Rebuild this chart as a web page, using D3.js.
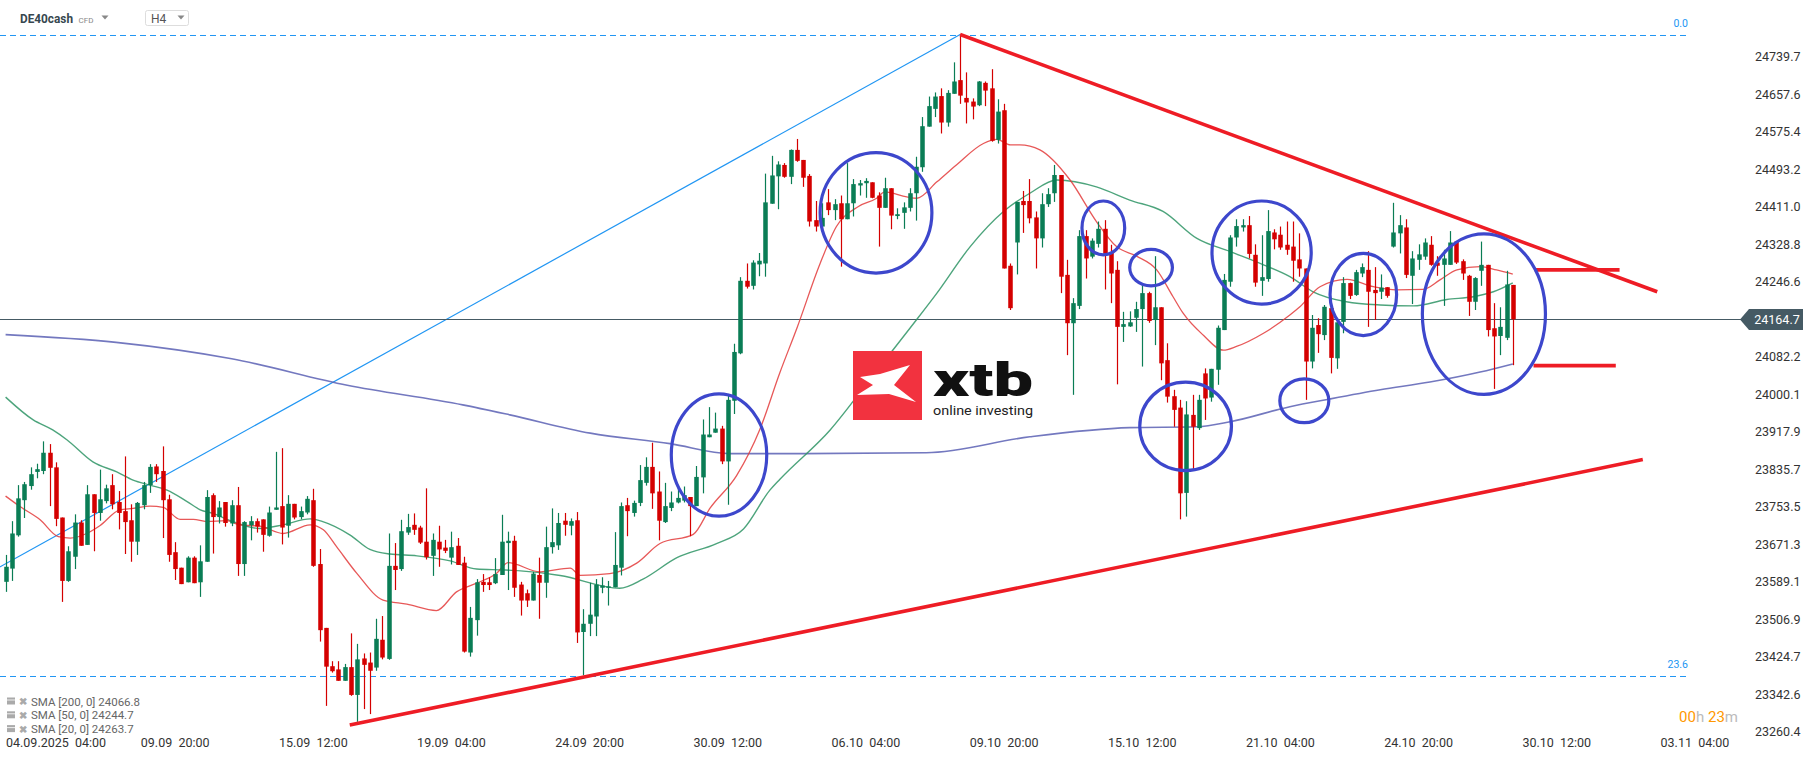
<!DOCTYPE html>
<html>
<head>
<meta charset="utf-8">
<script src="https://cdn.jsdelivr.net/npm/d3@7"></script>
<style>
  html, body { margin: 0; padding: 0; background: #fff; }
  svg { display: block; font-family: Roboto, "Noto Sans", sans-serif; }
</style>
</head>
<body>
<div id="chart"></div>
<script>
// H4 candles (index 0 = 03.09 08:00)
var opens = [
  23589,23618,23691,23768,23799,23830,23832,23872,23840,23730,
  23591,23644,23719,23670,23781,23740,23766,23801,23764,23744,
  23724,23677,23757,23801,23842,23832,23770,23654,23620,23588,
  23642,23588,23633,23779,23731,23764,23717,23757,23628,23713,
  23722,23726,23690,23747,23755,23712,23760,23731,23741,23768,
  23628,23488,23404,23397,23372,23402,23341,23421,23412,23401,
  23462,23420,23624,23617,23697,23714,23708,23677,23646,23677,
  23664,23642,23668,23631,23434,23505,23589,23588,23586,23604,
  23674,23679,23583,23564,23548,23604,23587,23665,23669,23723,
  23712,23724,23479,23497,23513,23576,23576,23577,23620,23757,
  23740,23762,23806,23841,23787,23720,23751,23763,23767,23775,
  23755,23818,23906,23916,23925,23853,23986,24090,24249,24238,
  24285,24287,24418,24478,24503,24477,24536,24514,24479,24382,
  24368,24421,24404,24419,24384,24419,24458,24463,24465,24436,
  24409,24452,24391,24398,24409,24441,24498,24587,24626,24654,
  24596,24659,24689,24650,24642,24634,24683,24671,24558,24623,
  24282,24333,24424,24424,24388,24342,24417,24441,24481,24262,
  24156,24194,24347,24302,24330,24363,24312,24273,24148,24149,
  24168,24187,24222,24163,24191,24075,23996,23971,23784,23955,
  23926,24046,23993,24054,24141,24247,24344,24366,24371,24306,
  24249,24253,24355,24350,24328,24324,24296,24276,24072,24152,
  24130,24189,24079,24159,24244,24218,24265,24273,24229,24225,
  24235,24324,24353,24366,24260,24295,24302,24328,24289,24284,
  24284,24335,24292,24260,24203,24271,24284,24145,24128,24124,
  24240
];
var highs = [
  23648,23722,23801,23808,23840,23848,23897,23891,23851,23730,
  23667,23737,23724,23801,23781,23835,23802,23825,23788,23864,
  23759,23764,23808,23847,23847,23886,23780,23676,23620,23645,
  23645,23669,23790,23783,23766,23764,23768,23797,23722,23733,
  23728,23726,23754,23874,23882,23779,23760,23754,23777,23793,
  23661,23488,23415,23415,23409,23476,23453,23432,23434,23508,
  23514,23695,23674,23725,23738,23739,23712,23794,23695,23712,
  23681,23699,23685,23644,23534,23595,23606,23599,23641,23736,
  23699,23690,23589,23572,23611,23642,23710,23750,23740,23740,
  23728,23742,23529,23587,23595,23599,23591,23698,23763,23773,
  23767,23845,23862,23894,23831,23806,23787,23798,23798,23775,
  23843,23945,23972,23960,23931,24001,24111,24257,24287,24294,
  24310,24484,24523,24511,24507,24537,24560,24514,24483,24424,
  24419,24450,24428,24436,24507,24472,24470,24474,24465,24443,
  24475,24452,24408,24421,24452,24521,24608,24653,24662,24671,
  24667,24728,24789,24706,24649,24687,24686,24713,24647,24637,
  24287,24422,24446,24472,24401,24441,24452,24503,24481,24295,
  24211,24360,24360,24342,24379,24382,24328,24292,24181,24182,
  24203,24244,24225,24303,24191,24112,24010,23988,23985,23999,
  23999,24057,24056,24151,24264,24349,24384,24384,24391,24329,
  24349,24404,24362,24368,24379,24379,24353,24276,24174,24167,
  24196,24192,24163,24257,24245,24273,24287,24314,24279,24263,
  24235,24420,24393,24384,24314,24329,24342,24347,24303,24317,
  24358,24335,24296,24262,24257,24335,24284,24200,24191,24271,
  24240
];
var lows = [
  23567,23591,23688,23729,23791,23816,23825,23755,23711,23545,
  23589,23617,23668,23670,23656,23723,23761,23748,23704,23650,
  23633,23648,23748,23784,23808,23685,23633,23593,23584,23588,
  23586,23556,23633,23651,23717,23710,23711,23602,23602,23680,
  23697,23655,23688,23747,23671,23686,23726,23726,23737,23622,
  23458,23317,23390,23372,23372,23339,23282,23310,23299,23394,
  23419,23418,23571,23613,23692,23692,23672,23638,23602,23622,
  23652,23627,23626,23434,23425,23471,23567,23571,23584,23604,
  23571,23556,23515,23534,23548,23508,23554,23651,23659,23690,
  23691,23455,23384,23470,23470,23564,23537,23577,23603,23689,
  23732,23755,23800,23749,23680,23718,23744,23761,23763,23689,
  23755,23783,23906,23916,23847,23758,23957,24088,24232,24230,
  24259,24258,24418,24406,24475,24461,24510,24455,24368,24357,
  24368,24393,24382,24280,24384,24390,24436,24431,24430,24324,
  24409,24362,24384,24363,24401,24381,24488,24587,24608,24572,
  24587,24659,24637,24594,24603,24632,24632,24554,24550,24276,
  24185,24263,24354,24375,24276,24322,24411,24422,24222,24086,
  23999,24187,24254,24298,24322,24230,24200,24022,24115,24148,
  24137,24061,24157,24108,24031,23982,23929,23726,23732,23836,
  23922,23944,23984,24021,24141,24236,24324,24357,24298,24236,
  24216,24247,24318,24317,24306,24247,24258,23988,24057,24091,
  24119,24046,24056,24134,24209,24216,24257,24148,24163,24209,
  24212,24322,24309,24255,24198,24273,24295,24282,24260,24194,
  24284,24286,24251,24172,24185,24238,24127,24012,24086,24119,
  24064
];
var closes = [
  23622,23695,23772,23803,23825,23836,23872,23839,23727,23591,
  23656,23719,23668,23781,23740,23770,23794,23759,23740,23720,
  23677,23762,23801,23841,23825,23768,23648,23617,23584,23642,
  23586,23634,23775,23731,23752,23718,23757,23628,23720,23722,
  23710,23692,23741,23752,23708,23760,23730,23744,23771,23624,
  23483,23403,23393,23372,23402,23341,23419,23407,23394,23464,
  23423,23624,23615,23700,23709,23703,23675,23643,23681,23660,
  23657,23665,23626,23436,23510,23588,23582,23582,23606,23677,
  23679,23576,23548,23548,23607,23587,23665,23676,23718,23714,
  23722,23478,23497,23517,23583,23581,23579,23626,23755,23744,
  23762,23812,23841,23783,23723,23755,23763,23773,23779,23755,
  23819,23912,23912,23925,23853,23988,24093,24249,24236,24289,
  24293,24421,24480,24504,24477,24536,24512,24475,24379,24368,
  24387,24404,24417,24384,24419,24461,24463,24468,24431,24409,
  24452,24392,24395,24410,24441,24499,24588,24632,24653,24596,
  24661,24686,24655,24640,24631,24686,24666,24556,24620,24276,
  24189,24422,24415,24386,24342,24417,24439,24481,24258,24156,
  24200,24347,24298,24337,24363,24308,24265,24148,24154,24158,
  24187,24222,24161,24191,24068,23995,23966,23783,23956,23929,
  23988,23991,24056,24146,24251,24344,24369,24371,24308,24245,
  24257,24358,24340,24322,24317,24293,24276,24072,24146,24132,
  24192,24080,24158,24244,24216,24268,24279,24225,24222,24234,
  24216,24355,24371,24262,24298,24307,24333,24284,24282,24298,
  24333,24289,24265,24203,24255,24284,24141,24127,24148,24241,
  24164.7
];

// moving averages: [candle index, value]
var sma20 = [
  [0,23777],[2.3,23754],[5.5,23725],[8.4,23688],[10.3,23685],[12.9,23695],[15,23712],
  [18.2,23747],[20.3,23750],[23,23755],[25.1,23752],[27.8,23726],[29.9,23726],[32,23721],
  [35.2,23723],[37.3,23714],[40.5,23711],[44.2,23695],[48.5,23714],[50.6,23703],[52.7,23666],
  [55.9,23608],[60.1,23549],[63.9,23540],[68.6,23526],[71.8,23567],[75,23586],[78.2,23608],
  [80,23631],[85.1,23611],[89.9,23619],[91.5,23603],[96.2,23607],[100.5,23630],[104.2,23673],
  [109.5,23693],[112.2,23751],[116.4,23822],[120.1,23923],[123.3,24048],[126,24145],
  [129.7,24287],[132.3,24368],[135.8,24412],[138.7,24430],[140,24444],[143.5,24433],
  [145.1,24430],[148.3,24466],[151.4,24503],[155.7,24550],[157.8,24559],[160,24547],
  [161.5,24547],[164.7,24536],[169.5,24470],[173.7,24379],[176.9,24324],[180.1,24303],
  [183.3,24273],[185.9,24214],[187.5,24178],[190.7,24130],[193.9,24097],[196,24105],
  [200.3,24134],[204.5,24174],[206.1,24192],[209.3,24236],[213.6,24252],[217.8,24236],
  [221.5,24229],[225.7,24230],[228.4,24251],[231.1,24273],[234.8,24280],[237.4,24273],
  [240,24263.7]
];
var sma50 = [
  [0,23994],[4.4,23944],[7.5,23922],[9.8,23900],[13.9,23852],[17.7,23830],[20.3,23812],
  [23,23801],[25.7,23790],[28.9,23765],[31,23747],[33,23739],[36.2,23721],[40.5,23706],
  [44.2,23714],[48.5,23727],[50.5,23721],[54.8,23692],[58,23660],[61.2,23650],[65.5,23646],
  [70.8,23635],[75,23617],[79.3,23615],[82,23613],[88.3,23603],[97.8,23575],[101.5,23595],
  [106.9,23642],[113.2,23673],[117.5,23705],[121.7,23790],[123.3,23814],[131.3,23922],
  [137.6,24032],[144,24145],[148.3,24222],[153.6,24324],[158.9,24401],[163.1,24441],
  [167.4,24470],[173.7,24455],[179,24426],[184.3,24401],[189.7,24342],[195,24313],
  [200.3,24284],[204.5,24258],[208.2,24225],[213.5,24203],[218.9,24196],[224.2,24194],
  [229.5,24208],[233.7,24214],[236.9,24225],[240,24244.7]
];
var sma200 = [
  [0,24131],[17.6,24114],[36,24078],[54.4,24020],[72.8,23977],[80.3,23955],[93.1,23915],
  [105.8,23892],[115.4,23870],[123.3,23870],[146.6,23872],[163.1,23907],[179,23927],
  [189.7,23929],[195,23940],[204.5,23973],[210.9,23990],[218.9,24010],[226.8,24027],
  [234.8,24049],[240,24066.8]
];

var yTicks = [24739.7, 24657.6, 24575.4, 24493.2, 24411.0, 24328.8, 24246.6, 24082.2,
  24000.1, 23917.9, 23835.7, 23753.5, 23671.3, 23589.1, 23506.9, 23424.7, 23342.6, 23260.4];
var xTickIndex = [5, 27, 49, 71, 93, 115, 137, 159, 181, 203, 225, 247, 269];
var xTickLabels = ["04.09.2025  04:00", "09.09  20:00", "15.09  12:00", "19.09  04:00",
  "24.09  20:00", "30.09  12:00", "06.10  04:00", "09.10  20:00", "15.10  12:00",
  "21.10  04:00", "24.10  20:00", "30.10  12:00", "03.11  04:00"];

// drawings on the chart: [index, price]
var fibLevels = [["0.0", 24788.6], ["23.6", 23382.6]];
var fibLine = [[-1, 23621], [152, 24789]];
var trendUpper = [[152, 24789], [263, 24225]];
var trendLower = [[54.8, 23275], [260.7, 23857]];
var targetMarks = [[[243.5, 24273], [257, 24273]], [[243.3, 24063], [256.4, 24063]]];
// ellipses: [centre index, centre price, index radius, price radius]
var circles = [
  [113.6, 23867, 7.6, 134], [138.6, 24398, 8.9, 132], [174.8, 24365, 3.4, 59],
  [182.4, 24278, 3.4, 40], [200, 24311, 7.9, 113], [187.9, 23930, 7.3, 97],
  [206.8, 23986, 3.9, 48], [216.2, 24219, 5.3, 90], [235.4, 24176, 9.8, 176]
];
var legendRows = ["SMA [200, 0] 24066.8", "SMA [50, 0] 24244.7", "SMA [20, 0] 24263.7"];

var W = 1815, H = 761;
var UP = "#0a7d55", DOWN = "#d40000";

var svg = d3.select("#chart").append("svg").attr("width", W).attr("height", H);

var x = d3.scaleLinear().domain([0, 240]).range([5.6, 1512.8]);
var y = d3.scaleLinear().domain([23260.4, 24739.7]).range([731.7, 57]);
var step = x(1) - x(0);
var bodyW = step * 0.72;

var candles = closes.map(function(c, i) {
  return { i: i, o: opens[i], h: highs[i], l: lows[i], c: c };
});

// fib levels
var fib = svg.append("g");
fib.selectAll("line").data(fibLevels).enter().append("line")
  .attr("x1", 0).attr("x2", 1690)
  .attr("y1", d => Math.round(y(d[1])) + 0.5).attr("y2", d => Math.round(y(d[1])) + 0.5)
  .attr("stroke", "#2196f3").attr("stroke-width", 1.2).attr("stroke-dasharray", "6,4");
fib.selectAll("text").data(fibLevels).enter().append("text")
  .attr("x", 1688).attr("y", d => y(d[1]) - 8)
  .attr("text-anchor", "end").attr("font-size", 10.5).attr("fill", "#2196f3")
  .text(d => d[0]);

var lineGen = d3.line().x(d => x(d[0])).y(d => y(d[1]));
svg.append("path").attr("d", lineGen(fibLine))
  .attr("fill", "none").attr("stroke", "#2196f3").attr("stroke-width", 1.2);

// last price line
var lastY = Math.round(y(closes[closes.length - 1])) + 0.5;
svg.append("line").attr("x1", 0).attr("x2", 1742).attr("y1", lastY).attr("y2", lastY)
  .attr("stroke", "#455a64").attr("stroke-width", 1);

// moving averages
var smoothLine = d3.line().x(d => x(d[0])).y(d => y(d[1])).curve(d3.curveMonotoneX);
svg.append("path").attr("d", smoothLine(sma200)).attr("fill", "none")
  .attr("stroke", "#5b60b4").attr("stroke-opacity", 0.85).attr("stroke-width", 1.6);
svg.append("path").attr("d", smoothLine(sma50)).attr("fill", "none")
  .attr("stroke", "#2e9465").attr("stroke-opacity", 0.85).attr("stroke-width", 1.4);
svg.append("path").attr("d", smoothLine(sma20)).attr("fill", "none")
  .attr("stroke", "#e33b3b").attr("stroke-opacity", 0.85).attr("stroke-width", 1.3);

// logo
var logo = svg.append("g").attr("transform", "translate(853,351)");
logo.append("rect").attr("width", 69).attr("height", 69).attr("fill", "#f2323f");
logo.append("path")
  .attr("d", "M7,26 L27,23 L57,14 L41,34 L63,51 L36,43 L4,44 L20,34 Z")
  .attr("fill", "#fff");
logo.append("text").attr("x", 80).attr("y", 45).attr("font-size", 46)
  .attr("font-weight", 900).attr("fill", "#111")
  .attr("textLength", 100).attr("lengthAdjust", "spacingAndGlyphs").text("xtb");
logo.append("text").attr("x", 80).attr("y", 64).attr("font-size", 13)
  .attr("fill", "#222").attr("textLength", 100).attr("lengthAdjust", "spacingAndGlyphs")
  .text("online investing");

// candles
var cg = svg.append("g");
cg.selectAll("line").data(candles).enter().append("line")
  .attr("x1", d => Math.round(x(d.i)) + 0.5).attr("x2", d => Math.round(x(d.i)) + 0.5)
  .attr("y1", d => y(d.h)).attr("y2", d => y(d.l))
  .attr("stroke", d => d.c >= d.o ? UP : DOWN).attr("stroke-width", 1.2);
cg.selectAll("rect").data(candles).enter().append("rect")
  .attr("x", d => Math.round(x(d.i)) + 0.5 - bodyW / 2)
  .attr("width", bodyW)
  .attr("y", d => y(Math.max(d.o, d.c)))
  .attr("height", d => Math.max(1, Math.abs(y(d.o) - y(d.c))))
  .attr("fill", d => d.c >= d.o ? UP : DOWN);

// trend lines
var RED = "#ee1c25";
[trendUpper, trendLower].concat(targetMarks).forEach(function(seg) {
  svg.append("path").attr("d", lineGen(seg)).attr("fill", "none")
    .attr("stroke", RED).attr("stroke-width", 3.6);
});

// ellipses
svg.append("g").selectAll("ellipse").data(circles).enter().append("ellipse")
  .attr("cx", d => x(d[0])).attr("cy", d => y(d[1]))
  .attr("rx", d => x(d[0] + d[2]) - x(d[0]))
  .attr("ry", d => y(d[1] - d[3]) - y(d[1]))
  .attr("fill", "none").attr("stroke", "#3d47cc").attr("stroke-width", 3.2);

// right axis
svg.append("g").selectAll("text").data(yTicks).enter().append("text")
  .attr("x", 1755).attr("y", d => y(d)).attr("dy", "0.35em")
  .attr("font-size", 12.5).attr("fill", "#333").text(d => d.toFixed(1));

var pb = svg.append("g");
pb.append("path")
  .attr("d", "M1740," + lastY + " L1749," + (lastY - 10.5) + " L1803," + (lastY - 10.5) +
    " L1803," + (lastY + 10.5) + " L1749," + (lastY + 10.5) + " Z")
  .attr("fill", "#455a64");
pb.append("text").attr("x", 1777).attr("y", lastY).attr("dy", "0.36em")
  .attr("text-anchor", "middle").attr("font-size", 12.5).attr("fill", "#fff")
  .text(closes[closes.length - 1].toFixed(1));

// bottom axis
svg.append("g").selectAll("text").data(xTickIndex).enter().append("text")
  .attr("x", (d, k) => k === 0 ? 6 : x(d))
  .attr("y", 747)
  .attr("text-anchor", (d, k) => k === 0 ? "start" : "middle")
  .attr("font-size", 12.5).attr("fill", "#333")
  .style("white-space", "pre")
  .text((d, k) => xTickLabels[k]);

// countdown
var cd = svg.append("text").attr("x", 1738).attr("y", 722).attr("text-anchor", "end")
  .attr("font-size", 15);
cd.append("tspan").attr("fill", "#ff9800").text("00");
cd.append("tspan").attr("fill", "#bbb").text("h ");
cd.append("tspan").attr("fill", "#ff9800").text("23");
cd.append("tspan").attr("fill", "#bbb").text("m");

// legend
var lg = svg.append("g").selectAll("g").data(legendRows).enter().append("g")
  .attr("transform", (d, k) => "translate(0," + (701.5 + k * 13.8) + ")");
lg.append("rect").attr("x", 7).attr("y", -4).attr("width", 8).attr("height", 7).attr("fill", "#aaa");
lg.append("rect").attr("x", 7).attr("y", -2).attr("width", 8).attr("height", 1).attr("fill", "#eee");
lg.append("text").attr("x", 19).attr("y", 0).attr("dy", "0.35em")
  .attr("font-size", 10).attr("font-weight", 700).attr("fill", "#aaa").text("\u2716");
lg.append("text").attr("x", 31).attr("y", 0).attr("dy", "0.35em")
  .attr("font-size", 11.5).attr("fill", "#666").text(d => d);

// header
var hd = svg.append("g");
hd.append("text").attr("x", 20).attr("y", 23).attr("font-size", 12.5).attr("font-weight", 700)
  .attr("fill", "#37474f").attr("textLength", 53).attr("lengthAdjust", "spacingAndGlyphs")
  .text("DE40cash");
hd.append("text").attr("x", 78.5).attr("y", 22.5).attr("font-size", 8).attr("fill", "#888").text("CFD");
hd.append("path").attr("d", "M101.5,15.5 L108.5,15.5 L105,19.5 Z").attr("fill", "#888");
hd.append("rect").attr("x", 145.5).attr("y", 10.5).attr("width", 43).attr("height", 15)
  .attr("rx", 2).attr("fill", "#fff").attr("stroke", "#ddd");
hd.append("text").attr("x", 151).attr("y", 22.5).attr("font-size", 12).attr("fill", "#555").text("H4");
hd.append("path").attr("d", "M177.5,15.5 L184.5,15.5 L181,19.5 Z").attr("fill", "#888");
</script>
</body>
</html>
